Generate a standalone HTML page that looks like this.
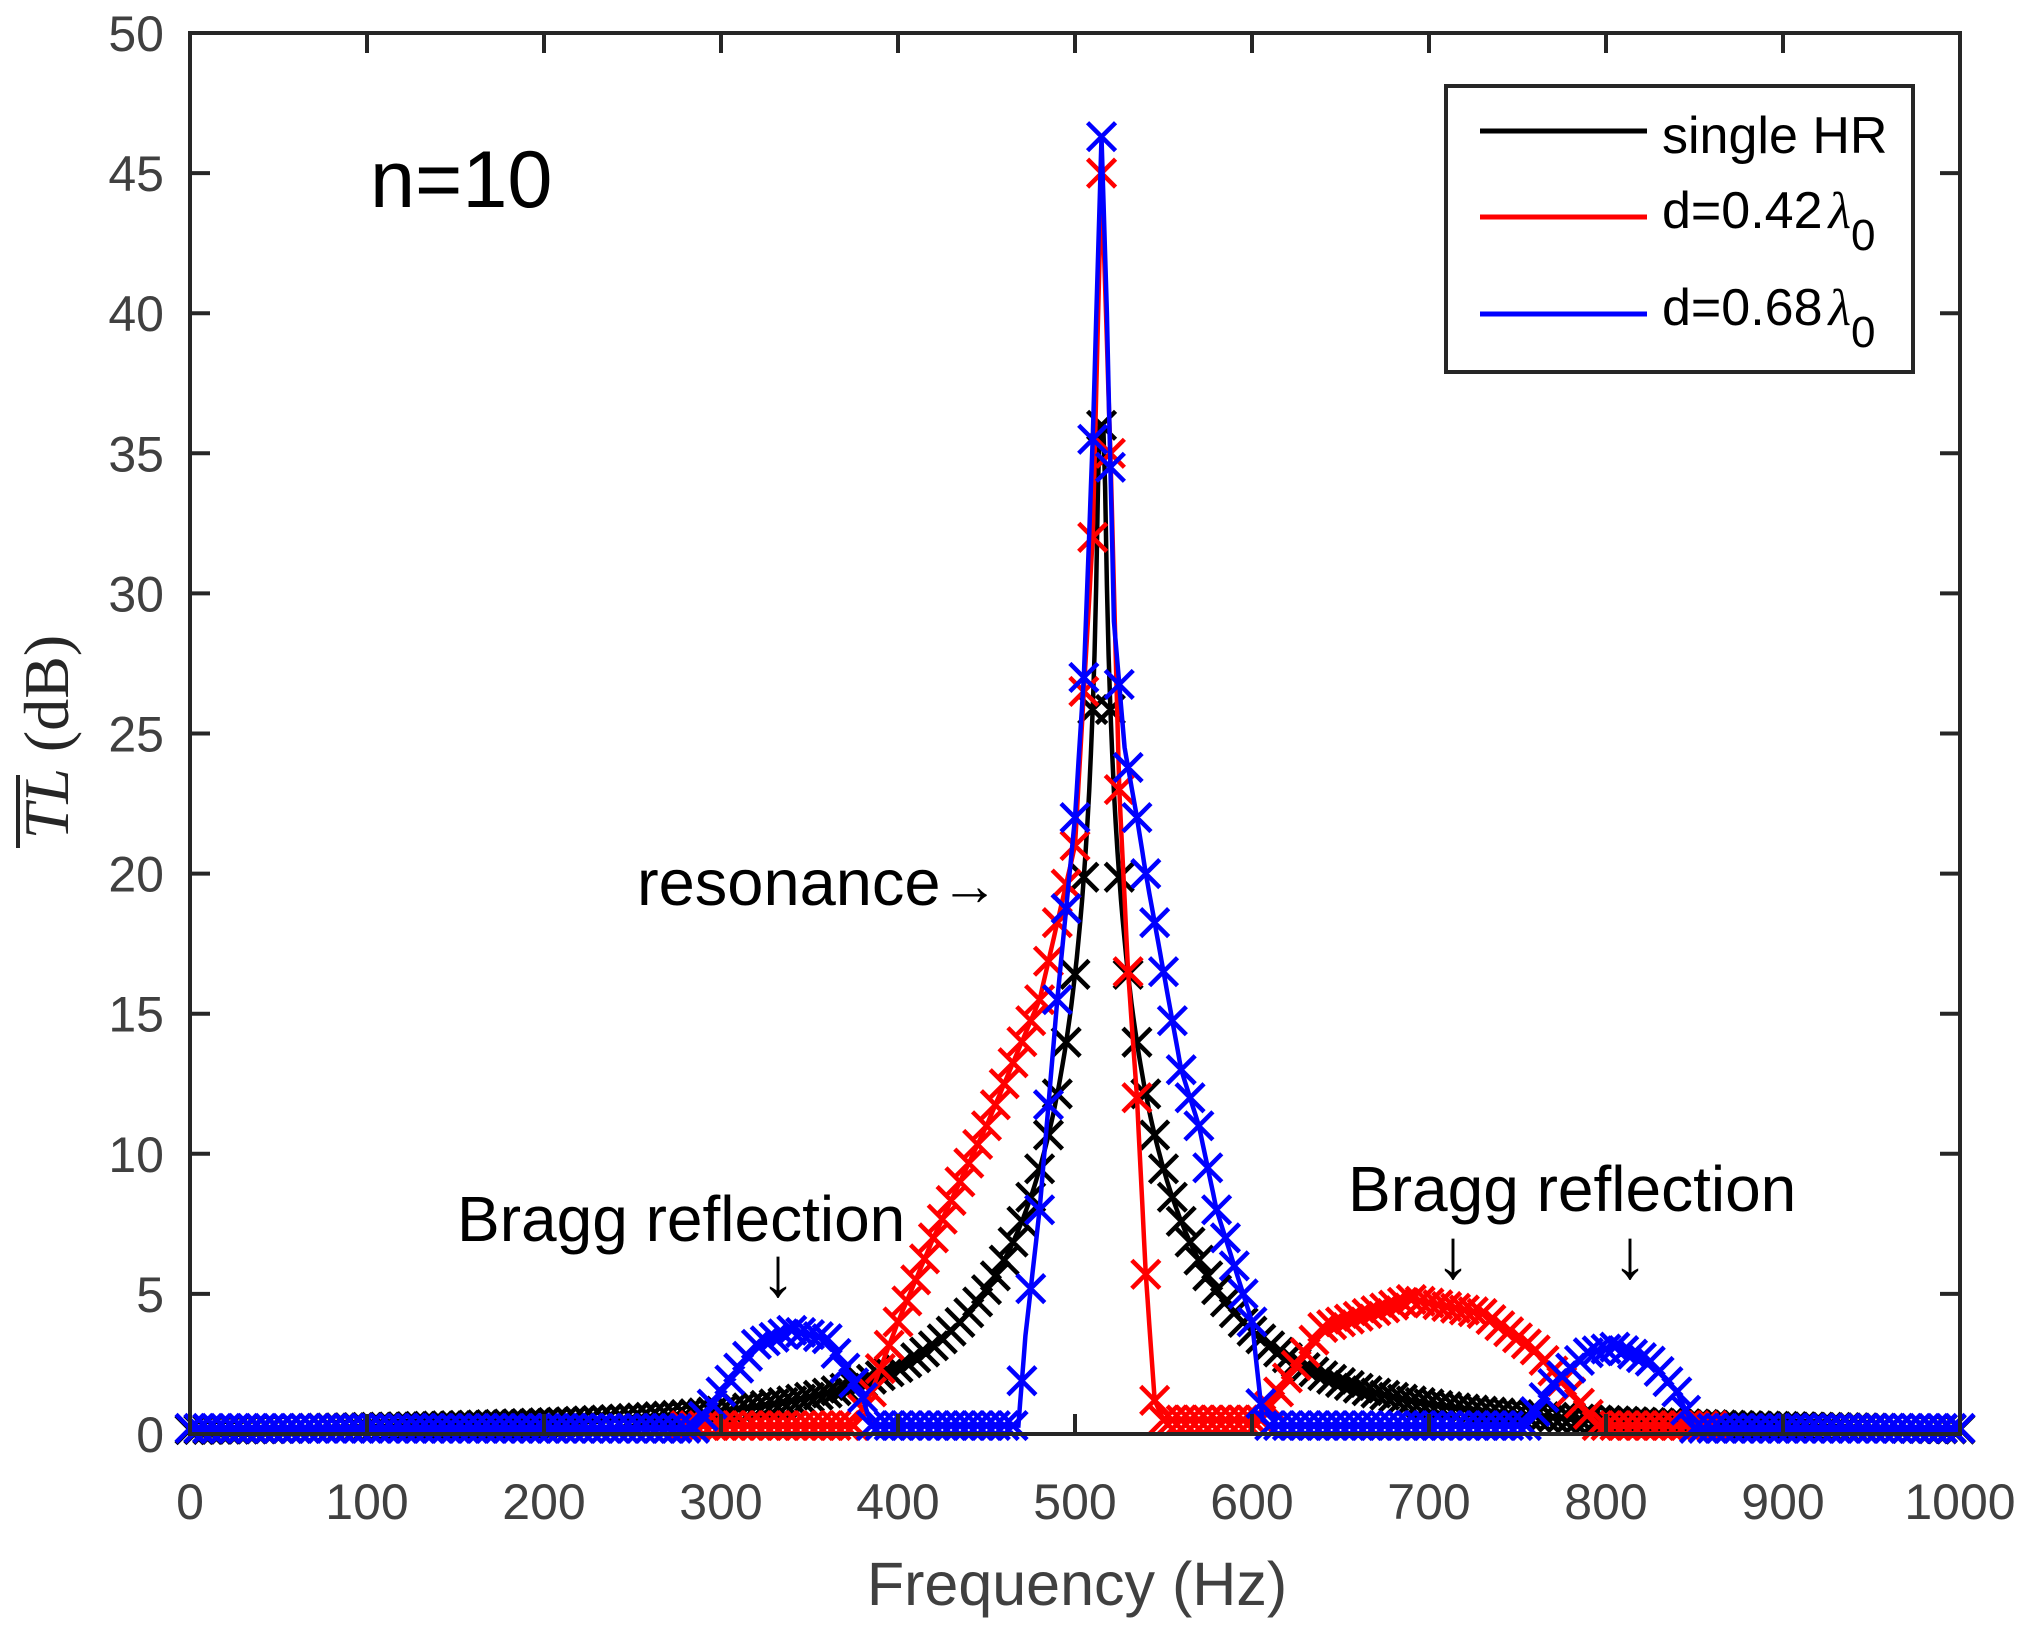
<!DOCTYPE html>
<html><head><meta charset="utf-8">
<style>
html,body{margin:0;padding:0;background:#fff;}
svg{display:block;}
text{font-family:"Liberation Sans",sans-serif;}
</style></head>
<body>
<svg id="s" width="2043" height="1629" viewBox="0 0 2043 1629" xmlns="http://www.w3.org/2000/svg">
<rect width="2043" height="1629" fill="#fff"/>
<g id="plot"></g>
<g id="axes" stroke="#262626" stroke-width="4" fill="none"></g>
<g id="labels" fill="#404040" font-size="50"></g>
<!-- annotations -->
<text x="370" y="207" font-size="81" fill="#000">n=10</text>
<text x="637" y="905" font-size="65" fill="#000">resonance<tspan font-size="58">→</tspan></text>
<text x="457" y="1241" font-size="64" fill="#000">Bragg reflection</text>
<text x="1348" y="1211" font-size="64" fill="#000">Bragg reflection</text>
<text x="778" y="1296" font-size="70" fill="#000" text-anchor="middle">↓</text>
<text x="1453" y="1278" font-size="70" fill="#000" text-anchor="middle">↓</text>
<text x="1630" y="1278" font-size="70" fill="#000" text-anchor="middle">↓</text>
<!-- axis titles -->
<text x="1077" y="1605" font-size="61" fill="#404040" text-anchor="middle">Frequency (Hz)</text>
<g transform="translate(68,737) rotate(-90)">
<text x="0" y="0" style="font-family:'Liberation Serif',serif" font-size="64" fill="#262626" text-anchor="middle"><tspan font-style="italic">TL</tspan> (dB)</text>
</g>
<line x1="18" y1="775" x2="18" y2="848" stroke="#262626" stroke-width="4"/>
<!-- legend -->
<rect x="1446" y="86" width="467" height="286" fill="#fff" stroke="#262626" stroke-width="4"/>
<line x1="1480" y1="131" x2="1647" y2="131" stroke="#000" stroke-width="5"/>
<line x1="1480" y1="217" x2="1647" y2="217" stroke="#f00" stroke-width="5"/>
<line x1="1480" y1="314" x2="1647" y2="314" stroke="#00f" stroke-width="5"/>
<text x="1662" y="153" font-size="52" fill="#000">single HR</text>
<text x="1662" y="228" font-size="52" fill="#000">d=0.42<tspan style="font-family:'Liberation Serif',serif" font-style="italic" dx="6">λ</tspan><tspan font-size="44" dy="22">0</tspan></text>
<text x="1662" y="325" font-size="52" fill="#000">d=0.68<tspan style="font-family:'Liberation Serif',serif" font-style="italic" dx="6">λ</tspan><tspan font-size="44" dy="22">0</tspan></text>
</svg>
<script>
var X0=190,X1=1960,Y0=1434,YT=33;
function px(f){return X0+(X1-X0)*f/1000;}
function py(v){return Y0-(Y0-YT)*v/50;}
function interp(k,f){
  if(f<=k[0][0])return k[0][1];
  for(var i=1;i<k.length;i++){if(f<=k[i][0]){var a=k[i-1],b=k[i];return a[1]+(b[1]-a[1])*(f-a[0])/(b[0]-a[0]);}}
  return k[k.length-1][1];
}
function black(f){var d=f-515;if(Math.abs(d)<2)return 36;var v=10*Math.log10(1+Math.pow(98/d,2));return Math.min(v,36);}
var redK=[[0,0.3],[375,0.3],[385,1.5],[400,4],[420,7],[450,11],[480,15.5],[500,21],[510,32],[515,45],[520,35],[525,23],[530,16.5],[535,12],[540,5.7],[545,1.2],[550,0.5],[605,0.5],[620,2],[640,3.8],[690,4.8],[730,4.3],[760,3],[780,1.5],[795,0.3],[1000,0.3]];
var blueK=[[0,0.2],[285,0.2],[300,1.5],[320,3.2],[340,3.7],[360,3.4],[380,1.3],[385,0.3],[468,0.3],[472,3.5],[480,8],[490,15.5],[500,22],[505,27],[510,35.5],[515,46.3],[518,40],[522,29],[528,24.5],[535,22],[540,20],[550,16.5],[560,13],[570,11],[580,8],[590,6],[600,4],[606,0.5],[610,0.3],[755,0.3],[770,1.8],[790,2.9],[805,3.1],[825,2.6],[840,1.5],[850,0.2],[1000,0.2]];
var series=[
 {c:"#000",fn:black,a:0,b:1000},
 {c:"#f00",fn:function(f){return interp(redK,f);},a:280,b:860},
 {c:"#00f",fn:function(f){return interp(blueK,f);},a:0,b:1000}
];
var ns="http://www.w3.org/2000/svg",plot=document.getElementById("plot");
series.forEach(function(s){
  var d="",m="";
  for(var f=s.a;f<=s.b;f+=1){d+=(f==s.a?"M":"L")+px(f).toFixed(1)+" "+py(s.fn(f)).toFixed(1);}
  for(var f=s.a;f<=s.b;f+=5){var x=px(f),y=py(s.fn(f)),r=14;
    m+="M"+(x-r)+" "+(y-r)+"L"+(x+r)+" "+(y+r)+"M"+(x-r)+" "+(y+r)+"L"+(x+r)+" "+(y-r);}
  var p=document.createElementNS(ns,"path");p.setAttribute("d",d);p.setAttribute("stroke",s.c);p.setAttribute("stroke-width","4.5");p.setAttribute("fill","none");plot.appendChild(p);
  var q=document.createElementNS(ns,"path");q.setAttribute("d",m);q.setAttribute("stroke",s.c);q.setAttribute("stroke-width","4.5");q.setAttribute("fill","none");plot.appendChild(q);
});
var ax=document.getElementById("axes"),lb=document.getElementById("labels"),h="";
h+='<rect x="'+X0+'" y="'+YT+'" width="'+(X1-X0)+'" height="'+(Y0-YT)+'"/>';
var t="";
for(var i=0;i<=10;i++){var x=px(i*100);h+='<line x1="'+x+'" y1="'+Y0+'" x2="'+x+'" y2="'+(Y0-20)+'"/><line x1="'+x+'" y1="'+YT+'" x2="'+x+'" y2="'+(YT+20)+'"/>';
 t+='<text x="'+x+'" y="1519" text-anchor="middle">'+(i*100)+'</text>';}
for(var i=0;i<=10;i++){var y=py(i*5);h+='<line x1="'+X0+'" y1="'+y+'" x2="'+(X0+20)+'" y2="'+y+'"/><line x1="'+X1+'" y1="'+y+'" x2="'+(X1-20)+'" y2="'+y+'"/>';
 t+='<text x="164" y="'+(y+18)+'" text-anchor="end">'+(i*5)+'</text>';}
ax.innerHTML=h;lb.innerHTML=t;
</script>
</body></html>
